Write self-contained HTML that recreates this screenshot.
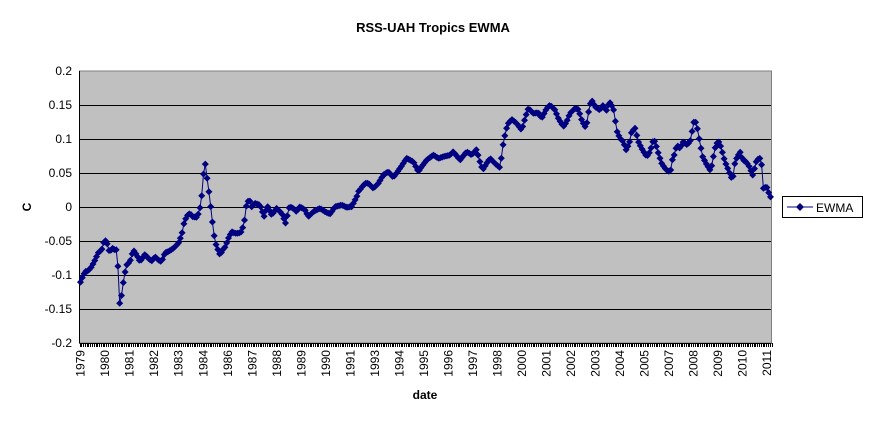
<!DOCTYPE html><html><head><style>body{margin:0;background:#fff}svg{font-family:"Liberation Sans",Arial,sans-serif}</style></head><body>
<svg id="s" width="871" height="421" xmlns="http://www.w3.org/2000/svg">
<rect x="0" y="0" width="871" height="421" fill="#fff"/>
<rect x="79.5" y="71" width="692" height="272" fill="#c0c0c0" stroke="#808080"/>
<g stroke="#000" stroke-width="1">
<line x1="80" x2="771" y1="105.5" y2="105.5"/><line x1="80" x2="771" y1="139.5" y2="139.5"/><line x1="80" x2="771" y1="173.5" y2="173.5"/><line x1="80" x2="771" y1="207.5" y2="207.5"/><line x1="80" x2="771" y1="241.5" y2="241.5"/><line x1="80" x2="771" y1="275.5" y2="275.5"/><line x1="80" x2="771" y1="309.5" y2="309.5"/>
<line x1="79.5" x2="79.5" y1="71" y2="343"/><line x1="79.5" x2="771.5" y1="343.5" y2="343.5"/>
</g>
<g id="ticks" stroke="#000"></g>
<g font-size="12" text-anchor="end">
<text x="72" y="75">0.2</text><text x="72" y="109">0.15</text><text x="72" y="143">0.1</text><text x="72" y="177">0.05</text><text x="72" y="211">0</text><text x="72" y="245">-0.05</text><text x="72" y="279">-0.1</text><text x="72" y="313">-0.15</text><text x="72" y="347">-0.2</text>
</g>
<g id="yl" font-size="12" text-anchor="end"></g>
<text x="433" y="32" font-size="13" font-weight="bold" text-anchor="middle">RSS-UAH Tropics EWMA</text>
<text x="425" y="399" font-size="12" font-weight="bold" text-anchor="middle">date</text>
<text x="31" y="207" font-size="12" font-weight="bold" text-anchor="middle" transform="rotate(-90 31 207)">C</text>
<g id="ser"></g>
<rect x="782.5" y="196.5" width="80" height="21" fill="#fff" stroke="#000"/>
<line x1="787" x2="813" y1="207" y2="207" stroke="#000080"/>
<path d="M800 203 L804 207 L800 211 L796 207Z" fill="#000080"/>
<text x="816" y="212" font-size="12">EWMA</text>
</svg>
<script>
var ns="http://www.w3.org/2000/svg";
function P(o,ox,oy){return o.map(function(p){return [ox+p[0]/3,oy+p[1]/3]})}
var a=P([[60,670],[68,650],[75,635],[85,632],[95,620],[105,600],[115,578],[125,570],[133,540],[140,545],[148,575],[158,565],[165,570],[172,568],[178,735],[186,700],[192,650],[200,615],[210,605],[220,570],[230,585],[240,605],[255,583],[265,595],[275,603],[285,590],[295,600],[305,605],[315,578],[325,575],[340,565],[355,550],[365,525],[372,490],[380,468],[390,460],[398,470],[410,472],[418,455],[425,410],[430,345],[436,312],[440,345],[446,390],[452,440],[458,492],[465,545],[472,565],[480,585],[488,570],[496,560],[505,535],[515,515],[525,520],[535,520],[545,515],[553,485],[560,430],[568,418],[575,440],[585,430],[600,435],[612,470],[622,438],[635,465],[650,445],[665,460],[677,490],[688,440],[700,445],[710,455],[720,440],[735,450],[745,470],[760,455],[770,450],[780,445],[795,455],[810,462],[825,440],[845,435],[860,442],[875,440],[885,420],[895,400]],60,60);
var b=P([[10,425],[25,395],[45,370],[55,370],[70,385],[85,370],[100,345],[115,335],[130,352],[150,325],[170,295],[190,305],[205,335],[215,320],[230,300],[250,285],[265,295],[280,290],[300,285],[310,275],[330,300],[350,275],[365,285],[380,268],[388,300],[398,330],[410,310],[420,295],[435,310],[452,325],[455,275],[462,240],[468,210],[475,190],[485,178],[500,190],[515,210],[525,175],[535,145],[550,160],[565,158],[575,175],[590,145],[600,135],[615,150],[625,175],[640,200],[650,185],[660,160],[675,145],[685,148],[695,180],[705,200],[712,185],[718,140],[725,120],[735,140],[750,150],[760,135],[768,155],[778,125],[790,145],[795,175],[800,212],[810,235],[820,245],[828,270],[838,250],[845,215],[855,205],[865,245],[875,265],[890,290]],350,60);
var c=P([[15,150],[28,125],[38,145],[45,175],[50,215],[55,230],[65,245],[78,270],[85,255],[92,215],[100,205],[110,235],[120,245],[130,270],[140,290],[150,275],[160,240],[165,245],[175,280],[185,310],[195,325],[205,335],[212,330],[218,295],[225,280],[230,255],[240,265],[250,245],[262,255],[272,240],[280,190],[285,180],[292,205],[300,250],[308,290],[318,310],[330,330],[338,310],[342,275],[350,250],[358,245],[365,270],[375,305],[385,330],[395,355],[402,345],[405,305],[415,285],[420,275],[428,300],[438,305],[448,320],[458,345],[465,320],[470,300],[480,295],[485,315],[490,385],[500,380],[505,395],[512,412]],600,60);
var k=a.concat(b).concat(c);
var N=388,x0=80.5,x1=770.5,pts=[];
for(var i=0;i<N;i++){var x=x0+(x1-x0)*i/(N-1);var j=0;while(j<k.length-2&&k[j+1][0]<x)j++;var p=k[j],q=k[j+1];var t=(q[0]-p[0])?(x-p[0])/(q[0]-p[0]):0;t=Math.max(0,Math.min(1,t));pts.push([x,p[1]+(q[1]-p[1])*t]);}
var g=document.getElementById("ser");
var pl=document.createElementNS(ns,"polyline");pl.setAttribute("points",pts.map(function(p){return p[0].toFixed(1)+","+p[1].toFixed(1)}).join(" "));pl.setAttribute("fill","none");pl.setAttribute("stroke","#000080");g.appendChild(pl);
var d="";pts.forEach(function(p){d+="M"+p[0].toFixed(1)+" "+(p[1]-3.5).toFixed(1)+"l3.5 3.5l-3.5 3.5l-3.5 -3.5z"});
var pm=document.createElementNS(ns,"path");pm.setAttribute("d",d);pm.setAttribute("fill","#000080");g.appendChild(pm);
var tg=document.getElementById("ticks");var td="";for(var i=0;i<=N;i++){var x=Math.round(79.5+692*i/N)+0.5;td+="M"+x+" 343V347"}
var tp=document.createElementNS(ns,"path");tp.setAttribute("d",td);tp.setAttribute("stroke","#000");tg.appendChild(tp);
var yrs=[1979,1980,1981,1982,1983,1984,1986,1987,1988,1989,1990,1991,1993,1994,1995,1996,1997,1998,2000,2001,2002,2003,2004,2005,2007,2008,2009,2010,2011];
var yl=document.getElementById("yl");
yrs.forEach(function(y,i){var x=80.7+i*(767-80.7)/28+4;var t=document.createElementNS(ns,"text");t.setAttribute("x",x);t.setAttribute("y",350);t.setAttribute("transform","rotate(-90 "+x+" 350)");t.textContent=y;yl.appendChild(t);});
</script>
</body></html>
